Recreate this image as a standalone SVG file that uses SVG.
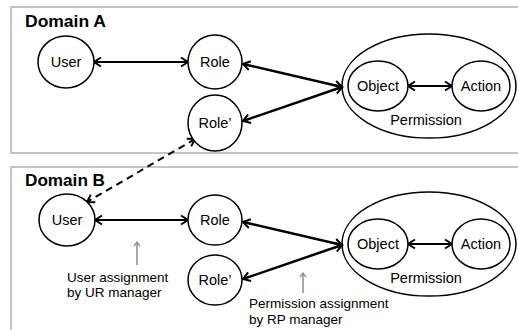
<svg xmlns="http://www.w3.org/2000/svg" width="518" height="330" viewBox="0 0 518 330">
<style>
.dom{fill:#fff;stroke:#b4b4b4;stroke-width:1.5}
.nd{fill:#fff;stroke:#000;stroke-width:1.5}
.perm{fill:none;stroke:#000;stroke-width:1.5}
.t{font-family:"Liberation Sans",Arial,sans-serif;font-size:14.5px;fill:#000;text-anchor:middle}
.title{font-family:"Liberation Sans",Arial,sans-serif;font-size:16.5px;font-weight:bold;fill:#000}
.lbl{font-family:"Liberation Sans",Arial,sans-serif;font-size:13.5px;fill:#000}
.c{fill:none;stroke:#000;stroke-width:2}
.cw{fill:none;stroke:#000;stroke-width:2.5}
.cd{fill:none;stroke:#000;stroke-width:2;stroke-dasharray:7,5}
.g{fill:none;stroke:#8c8c8c;stroke-width:1.5}
</style>
<defs>
<marker id="ah" markerUnits="userSpaceOnUse" markerWidth="12" markerHeight="12" refX="9" refY="6" orient="auto-start-reverse">
<path d="M2,1.5 L9,6 L2,10.5" fill="none" stroke="#000" stroke-width="2"/>
</marker>
<marker id="gh" markerUnits="userSpaceOnUse" markerWidth="10" markerHeight="10" refX="5" refY="5" orient="auto">
<path d="M1,2 L5,5 L1,8" fill="none" stroke="#8c8c8c" stroke-width="1.3"/>
</marker>
</defs>

<g id="domainA">
<rect class="dom" x="11" y="7" width="520" height="146"/>
<text class="title" x="25" y="27" textLength="81" lengthAdjust="spacingAndGlyphs">Domain A</text>
</g>
<g id="domainB">
<rect class="dom" x="11" y="167" width="520" height="170"/>
<text class="title" x="25" y="186" textLength="80" lengthAdjust="spacingAndGlyphs">Domain B</text>
</g>

<g id="permA">
<ellipse class="perm" cx="429" cy="86" rx="87" ry="52"/>
<text class="t" x="426" y="125">Permission</text>
</g>
<g id="permB">
<ellipse class="perm" cx="429" cy="244" rx="87" ry="52"/>
<text class="t" x="426" y="283">Permission</text>
</g>

<g id="connectors">
<line class="c" x1="94" y1="62" x2="188" y2="62" marker-start="url(#ah)" marker-end="url(#ah)"/>
<line class="cw" x1="243" y1="64" x2="342" y2="87" marker-start="url(#ah)" marker-end="url(#ah)"/>
<line class="cw" x1="243" y1="121" x2="342" y2="87" marker-start="url(#ah)" marker-end="url(#ah)"/>
<line class="c" x1="408" y1="86" x2="452" y2="86" marker-start="url(#ah)" marker-end="url(#ah)"/>
<line class="cd" x1="195" y1="139" x2="87" y2="202" marker-start="url(#ah)" marker-end="url(#ah)"/>
<line class="c" x1="95" y1="220" x2="188" y2="220" marker-start="url(#ah)" marker-end="url(#ah)"/>
<line class="cw" x1="243" y1="222" x2="342" y2="245" marker-start="url(#ah)" marker-end="url(#ah)"/>
<line class="cw" x1="243" y1="279" x2="342" y2="245" marker-start="url(#ah)" marker-end="url(#ah)"/>
<line class="c" x1="408" y1="244" x2="452" y2="244" marker-start="url(#ah)" marker-end="url(#ah)"/>
<line class="g" x1="137" y1="265" x2="137" y2="242" marker-end="url(#gh)"/>
<line class="g" x1="303" y1="293" x2="303" y2="273" marker-end="url(#gh)"/>
</g>

<g id="userA"><ellipse class="nd" cx="66" cy="62" rx="28" ry="26"/><text class="t" x="66" y="67">User</text></g>
<g id="roleA"><ellipse class="nd" cx="215" cy="62" rx="27" ry="27"/><text class="t" x="215" y="67">Role</text></g>
<g id="rolepA"><ellipse class="nd" cx="215" cy="123" rx="27" ry="28"/><text class="t" x="215" y="128">Role’</text></g>
<g id="objA"><ellipse class="nd" cx="378" cy="86" rx="30" ry="25"/><text class="t" x="378" y="91">Object</text></g>
<g id="actA"><ellipse class="nd" cx="481" cy="86" rx="29" ry="25"/><text class="t" x="481" y="91">Action</text></g>

<g id="userB"><ellipse class="nd" cx="67" cy="220" rx="28" ry="26"/><text class="t" x="67" y="225">User</text></g>
<g id="roleB"><ellipse class="nd" cx="215" cy="220" rx="27" ry="25"/><text class="t" x="215" y="225">Role</text></g>
<g id="rolepB"><ellipse class="nd" cx="215" cy="280" rx="27" ry="25"/><text class="t" x="215" y="285">Role’</text></g>
<g id="objB"><ellipse class="nd" cx="378" cy="244" rx="30" ry="25"/><text class="t" x="378" y="249">Object</text></g>
<g id="actB"><ellipse class="nd" cx="481" cy="244" rx="29" ry="25"/><text class="t" x="481" y="249">Action</text></g>

<g id="labelUR">
<text class="lbl" x="67" y="282">User assignment</text>
<text class="lbl" x="67" y="297">by UR manager</text>
</g>
<g id="labelRP">
<text class="lbl" x="249" y="308">Permission assignment</text>
<text class="lbl" x="249" y="324">by RP manager</text>
</g>
</svg>
